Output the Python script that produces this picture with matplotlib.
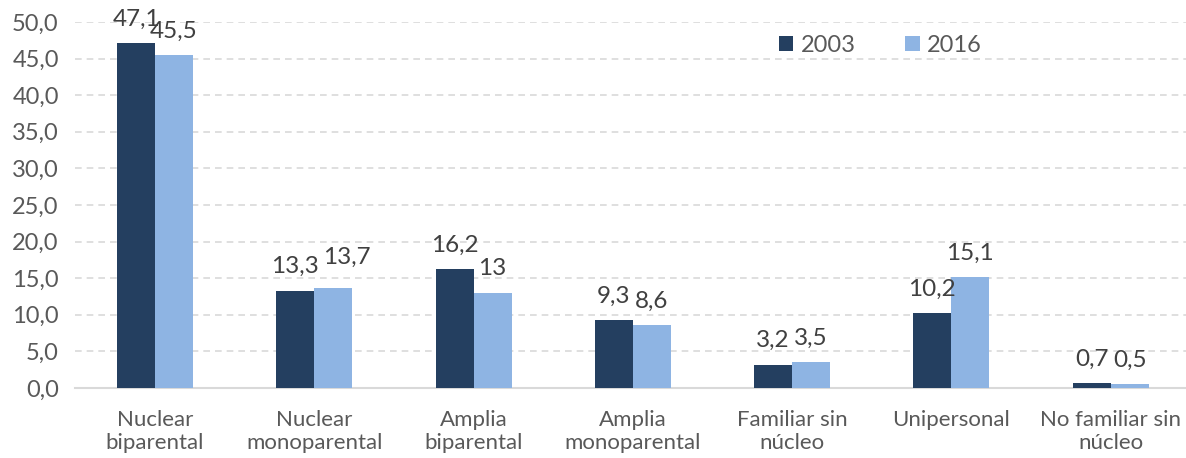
import numpy as np
import matplotlib.pyplot as plt

# data
categories = ['Nuclear\nbiparental', 'Nuclear\nmonoparental', 'Amplia\nbiparental',
              'Amplia\nmonoparental', 'Familiar sin\nnúcleo', 'Unipersonal',
              'No familiar sin\nnúcleo']
vals_2003 = [47.1, 13.3, 16.2, 9.3, 3.2, 10.2, 0.7]
vals_2016 = [45.5, 13.7, 13.0, 8.6, 3.5, 15.1, 0.5]
labels_2003 = ['47,1', '13,3', '16,2', '9,3', '3,2', '10,2', '0,7']
labels_2016 = ['45,5', '13,7', '13', '8,6', '3,5', '15,1', '0,5']
yticks = [0, 5, 10, 15, 20, 25, 30, 35, 40, 45, 50]

# labels moved by hand in the original (series, index) -> offset in points
nudge = {(1, 1): (10, 5)}

plt.rcParams['font.family'] = ['Lato', 'DejaVu Sans']

fig = plt.figure(figsize=(11.86, 4.58), dpi=100)
ax = fig.add_axes([0.0636, 0.153, 0.940, 0.799])

x = np.arange(len(categories))
w = 0.2385
b1 = ax.bar(x - w/2, vals_2003, w, color='#243F60', label='2003', zorder=3)
b2 = ax.bar(x + w/2, vals_2016, w, color='#8EB4E3', label='2016', zorder=3)

for s, (bars, labs) in enumerate([(b1, labels_2003), (b2, labels_2016)]):
    for i, (r, lab) in enumerate(zip(bars, labs)):
        dx, dy = nudge.get((s, i), (0, 0))
        ax.annotate(lab, (r.get_x() + r.get_width()/2, r.get_height()),
                    xytext=(dx, 12.5 + dy), textcoords='offset points',
                    ha='center', va='baseline', fontsize=17.5, color='#404040',
                    annotation_clip=False)

ax.set_xlim(-0.5, len(categories) - 0.5)
ax.set_ylim(0, 50)
ax.set_yticks(yticks)
ax.set_yticklabels([f'{v:.1f}'.replace('.', ',') for v in yticks])
ax.set_xticks(x)
ax.set_xticklabels(categories)
ax.tick_params(axis='both', length=0, labelsize=16, colors='#595959')
ax.tick_params(axis='y', labelsize=17, pad=12)
ax.tick_params(axis='x', pad=16)

ax.yaxis.grid(True, color='#D9D9D9', linestyle=(0, (4, 3)), linewidth=1.2, zorder=0)
for sp in ['top', 'right', 'left']:
    ax.spines[sp].set_visible(False)
ax.spines['bottom'].set_color('#D9D9D9')
ax.spines['bottom'].set_linewidth(1.5)

leg = ax.legend(loc='center', bbox_to_anchor=(0.722, 0.937), ncol=2, frameon=False,
                fontsize=17, handlelength=0.62, handleheight=0.62, columnspacing=2.12,
                handletextpad=0.3)
for t in leg.get_texts():
    t.set_color('#595959')

fig.savefig('out.png', dpi=100)
